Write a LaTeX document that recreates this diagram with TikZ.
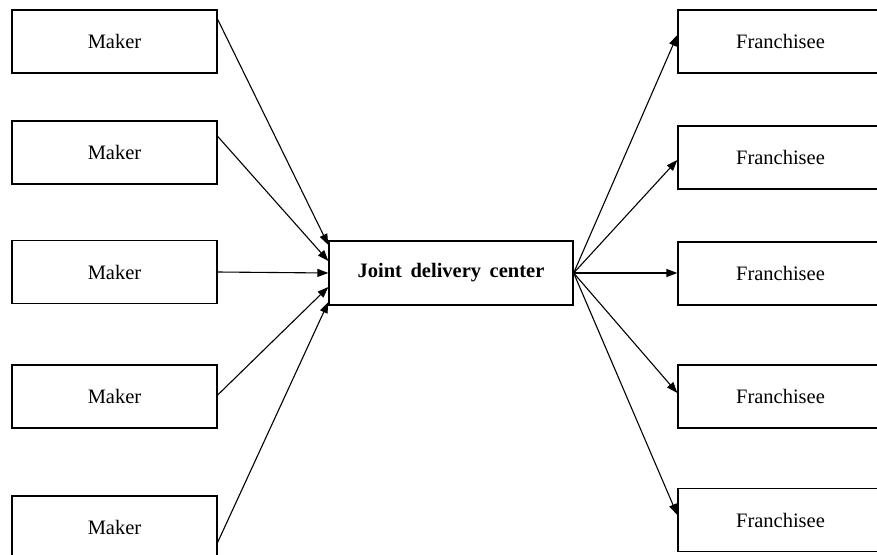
\documentclass[tikz,border=0pt]{standalone}
\usepackage{fontspec}
\setmainfont{Liberation Serif}
\usetikzlibrary{arrows.meta}
\begin{document}
\begin{tikzpicture}[x=1pt,y=-1pt,
  box/.style={draw=black,line width=1.3pt,minimum width=205pt,minimum height=63pt,inner sep=0pt,font=\fontsize{20.5}{24}\selectfont},
  hub/.style={draw=black,line width=1.3pt,minimum width=244pt,minimum height=64pt,inner sep=0pt,font=\fontsize{20.5}{24}\selectfont\bfseries},
  arr/.style={draw=black,line width=1.1pt,-{Triangle[length=11pt,width=8pt]}}]
\useasboundingbox (0,0) rectangle (877,554);
\clip (0,0) rectangle (877,554);
\node[box] (m1) at (114.5,41.5) {Maker};
\node[box] (m2) at (114.5,152.5) {Maker};
\node[box] (m3) at (114.5,272) {Maker};
\node[box] (m4) at (114.5,396.5) {Maker};
\node[box] (m5) at (114.5,527.5) {Maker};
\node[hub] (c) at (451,273) {Joint\, delivery\, center};
\node[box] (f1) at (780.5,41.5) {Franchisee};
\node[box] (f2) at (780.5,157.5) {Franchisee};
\node[box] (f3) at (780.5,273.5) {Franchisee};
\node[box] (f4) at (780.5,396.5) {Franchisee};
\node[box] (f5) at (780.5,520) {Franchisee};
\draw[arr] ([yshift=-10pt]m1.north east) -- ([yshift=28pt]c.west);
\draw[arr] ([yshift=-16pt]m2.north east) -- ([yshift=12pt]c.west);
\draw[arr] (m3.east) -- (c.west);
\draw[arr] ([yshift=1.5pt]m4.east) -- ([yshift=-14pt]c.west);
\draw[arr] ([yshift=-47pt]m5.north east) -- ([yshift=-29pt]c.west);
\draw[arr] (c.east) -- ([yshift=6.5pt]f1.west);
\draw[arr] (c.east) -- ([yshift=-2.5pt]f2.west);
\draw[arr] (c.east) -- ([yshift=0.5pt]f3.west);
\draw[arr] (c.east) -- ([yshift=3.5pt]f4.west);
\draw[arr] (c.east) -- ([yshift=5pt]f5.west);
\end{tikzpicture}
\end{document}
